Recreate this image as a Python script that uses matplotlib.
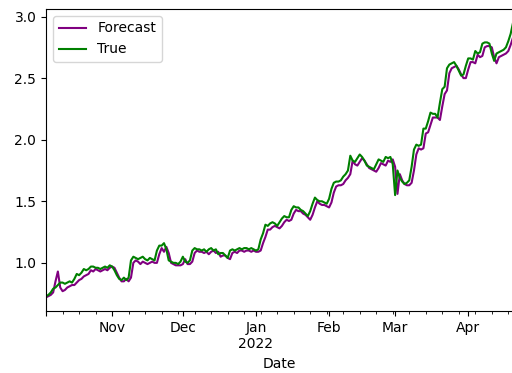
import numpy as np
import pandas as pd
import matplotlib
matplotlib.use("Agg")
import matplotlib.pyplot as plt

# daily series, 2021-10-04 .. 2022-04-20
start_date = "2021-10-04"
end_date = "2022-04-20"

true_vals = [
    0.73, 0.74, 0.76, 0.79, 0.80, 0.82, 0.84, 0.84, 0.83, 0.84,
    0.85, 0.84, 0.87, 0.91, 0.90, 0.92, 0.95, 0.94, 0.95, 0.97,
    0.97, 0.96, 0.96, 0.95, 0.96, 0.97, 0.96, 0.98, 0.97, 0.94,
    0.90, 0.87, 0.86, 0.88, 0.86, 0.88, 1.02, 1.05, 1.04, 1.03,
    1.04, 1.05, 1.03, 1.02, 1.04, 1.03, 1.02, 1.10, 1.14, 1.14,
    1.16, 1.11, 1.02, 1.01, 1.00, 1.00, 0.99, 1.01, 1.05, 1.01,
    1.00, 1.02, 1.10, 1.12, 1.11, 1.11, 1.10, 1.11, 1.09, 1.11,
    1.12, 1.10, 1.11, 1.07, 1.08, 1.08, 1.06, 1.04, 1.10, 1.11,
    1.10, 1.11, 1.12, 1.11, 1.12, 1.12, 1.11, 1.12, 1.11, 1.10,
    1.11, 1.19, 1.24, 1.31, 1.30, 1.32, 1.33, 1.32, 1.30, 1.33,
    1.36, 1.38, 1.37, 1.37, 1.43, 1.46, 1.45, 1.45, 1.43, 1.42,
    1.40, 1.38, 1.42, 1.48, 1.53, 1.51, 1.50, 1.50, 1.49, 1.48,
    1.52, 1.60, 1.65, 1.66, 1.66, 1.67, 1.70, 1.72, 1.75, 1.87,
    1.83, 1.82, 1.85, 1.88, 1.86, 1.83, 1.79, 1.78, 1.77, 1.76,
    1.80, 1.84, 1.83, 1.82, 1.86, 1.85, 1.86, 1.80, 1.55, 1.75,
    1.69, 1.66, 1.64, 1.65, 1.67, 1.78, 1.92, 1.96, 1.95, 1.96,
    2.09, 2.09, 2.15, 2.22, 2.21, 2.21, 2.18, 2.30, 2.41, 2.43,
    2.58, 2.61, 2.62, 2.63, 2.60, 2.56, 2.52, 2.53, 2.60, 2.66,
    2.66, 2.65, 2.72, 2.70, 2.71, 2.78, 2.79, 2.79, 2.78, 2.70,
    2.64, 2.70, 2.71, 2.72, 2.73, 2.75, 2.80, 2.86, 2.95,
]

forecast_vals = [
    0.72, 0.73, 0.74, 0.76, 0.85, 0.93, 0.80, 0.77, 0.78, 0.80,
    0.81, 0.82, 0.82, 0.84, 0.86, 0.87, 0.89, 0.90, 0.91, 0.94,
    0.93, 0.95, 0.94, 0.93, 0.94, 0.95, 0.94, 0.96, 0.97, 0.96,
    0.92, 0.88, 0.85, 0.85, 0.87, 0.85, 0.88, 1.00, 1.02, 1.01,
    0.99, 1.01, 1.00, 0.99, 1.00, 1.01, 1.00, 1.00, 1.07, 1.12,
    1.09, 1.13, 1.08, 1.00, 0.99, 0.98, 0.98, 0.98, 0.99, 1.03,
    0.99, 0.99, 1.01, 1.08, 1.10, 1.09, 1.09, 1.08, 1.09, 1.07,
    1.09, 1.10, 1.08, 1.09, 1.05, 1.06, 1.06, 1.04, 1.03, 1.08,
    1.09, 1.08, 1.10, 1.10, 1.09, 1.10, 1.10, 1.09, 1.10, 1.09,
    1.09, 1.10, 1.16, 1.21, 1.27, 1.27, 1.29, 1.30, 1.29, 1.28,
    1.30, 1.33, 1.35, 1.34, 1.35, 1.40, 1.43, 1.42, 1.42, 1.40,
    1.39, 1.37, 1.35, 1.39, 1.45, 1.50, 1.48, 1.47, 1.47, 1.46,
    1.45, 1.49, 1.57, 1.62, 1.63, 1.63, 1.64, 1.67, 1.69, 1.72,
    1.83, 1.80, 1.79, 1.82, 1.85, 1.83, 1.80, 1.77, 1.76, 1.75,
    1.74, 1.77, 1.81, 1.80, 1.79, 1.83, 1.82, 1.84, 1.78, 1.56,
    1.72, 1.67, 1.64, 1.63, 1.63, 1.65, 1.75, 1.88, 1.93, 1.92,
    1.93, 2.05, 2.06, 2.12, 2.18, 2.18, 2.18, 2.16, 2.27, 2.37,
    2.40, 2.54, 2.58, 2.59, 2.60, 2.57, 2.53, 2.50, 2.50, 2.57,
    2.63, 2.63, 2.62, 2.69, 2.67, 2.68, 2.75, 2.76, 2.76, 2.75,
    2.67, 2.62, 2.67, 2.68, 2.69, 2.70, 2.72, 2.77, 2.83,
]

dates = pd.date_range(start_date, end_date, freq="D", name="Date")
df = pd.DataFrame({"Forecast": forecast_vals, "True": true_vals}, index=dates)

fig = plt.figure(figsize=(5.12, 3.73), dpi=100)
ax = fig.add_axes([0.090, 0.166, 0.912, 0.810])
df["Forecast"].plot(ax=ax, color="purple", label="Forecast")
df["True"].plot(ax=ax, color="green", label="True")
ax.legend(loc="upper left")

fig.savefig("out.png", dpi=100)
